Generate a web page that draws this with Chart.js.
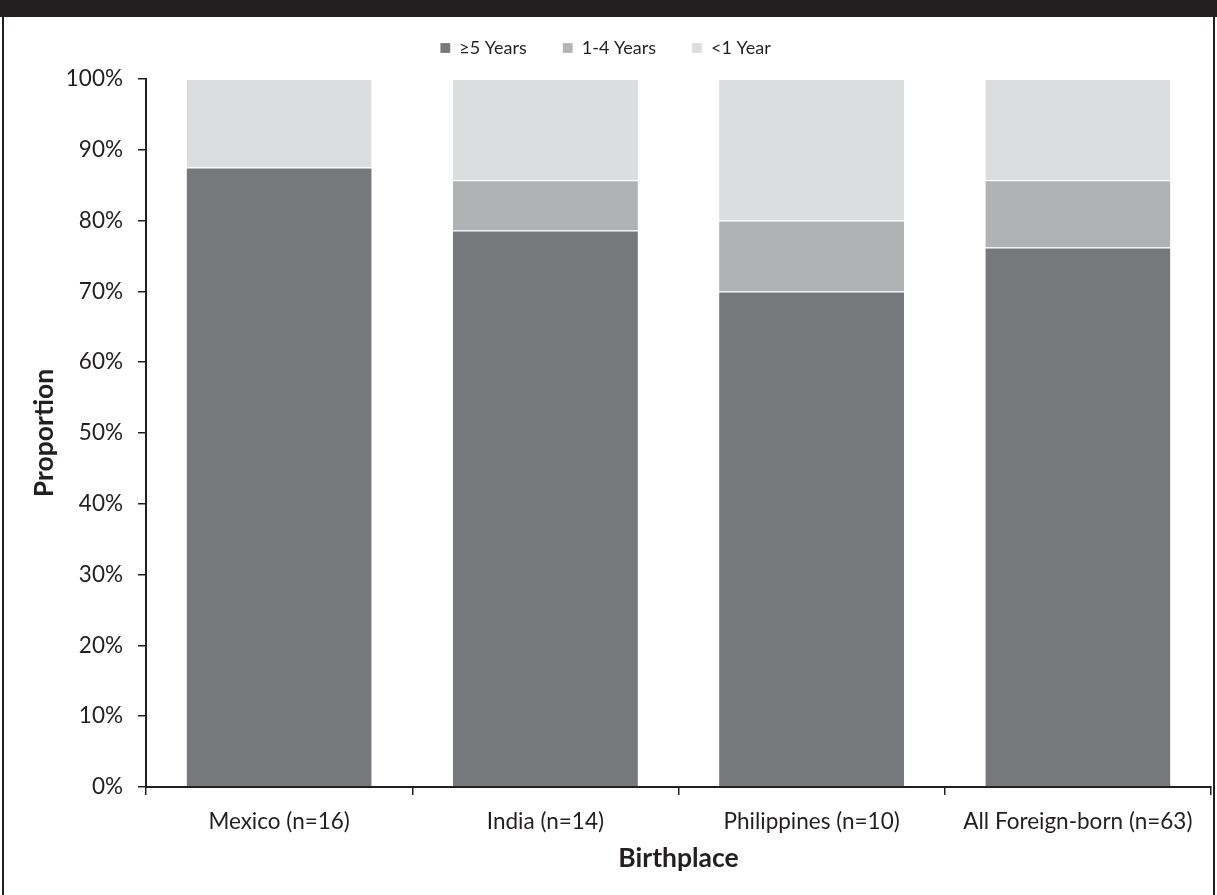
<!DOCTYPE html>
<html>
<head>
<meta charset="utf-8">
<script src="https://cdn.jsdelivr.net/npm/chart.js@4"></script>
<style>
  html, body { margin: 0; padding: 0; background: #fff; }
  #wrap { position: relative; width: 1217px; height: 895px; overflow: hidden; }
  canvas { position: absolute; left: 0; top: 0; }
  .frame { position: absolute; background: #231f20; }
</style>
</head>
<body>
<div id="wrap">
  <canvas id="c" width="1217" height="895"></canvas>
  <div class="frame" style="left:0;top:0;width:1217px;height:17px;"></div>
  <div class="frame" style="left:2px;top:0;width:2px;height:895px;"></div>
  <div class="frame" style="left:1213px;top:0;width:2px;height:895px;"></div>
</div>
<script>
const categories = ["Mexico (n=16)", "India (n=14)", "Philippines (n=10)", "All Foreign-born (n=63)"];
const seriesNames = ["\u22655 Years", "1-4 Years", "<1 Year"];
const over5 = [87.5, 78.6, 70.0, 76.2];
const oneToFour = [0.0, 7.1, 10.0, 9.5];
const underOne = [12.5, 14.3, 20.0, 14.3];
const yTicks = [0, 10, 20, 30, 40, 50, 60, 70, 80, 90, 100];

const colors = ["#77787b", "#b1b2b4", "#dcdddf"];
const axisColor = "#231f20";
const FONT = "Lato, 'Open Sans', sans-serif";

const seriesValues = [over5, oneToFour, underOne];
const datasets = seriesValues.map((vals, i) => ({
  label: seriesNames[i],
  data: vals,
  backgroundColor: colors[i],
  borderColor: "#ffffff",
  borderWidth: { top: 1, bottom: 0, left: 0, right: 0 },
  borderSkipped: false,
  categoryPercentage: 1.0,
  barPercentage: 0.695
}));

const legendHeightPlugin = {
  id: "legendHeight",
  beforeInit(chart) {
    const lg = chart.legend;
    if (!lg) return;
    const orig = lg.fit.bind(lg);
    lg.fit = function () { orig(); this.height = 76; };
  }
};

new Chart(document.getElementById("c"), {
  type: "bar",
  data: { labels: categories, datasets },
  plugins: [legendHeightPlugin],
  options: {
    responsive: false,
    animation: false,
    devicePixelRatio: 1,
    layout: { padding: { left: 0, right: 6, top: 3, bottom: 0 } },
    plugins: {
      legend: {
        position: "top",
        labels: {
          boxWidth: 10, boxHeight: 10,
          color: "#231f20",
          font: { family: FONT, size: 18 },
          padding: 36
        }
      },
      tooltip: { enabled: false }
    },
    scales: {
      x: {
        stacked: true,
        border: { display: true, color: axisColor, width: 2 },
        grid: { display: true, drawOnChartArea: false, drawTicks: true, tickLength: 8, color: axisColor, lineWidth: 1.5 },
        ticks: { color: "#231f20", font: { family: FONT, size: 22.5 }, padding: 13, maxRotation: 0 },
        title: { display: true, text: "Birthplace", color: "#231f20", font: { family: FONT, size: 26.5, weight: "bold" }, padding: { top: 0, bottom: 21 } },
        afterFit: (s) => { s.height = 108; }
      },
      y: {
        stacked: true,
        min: 0, max: 100,
        afterBuildTicks: (s) => { s.ticks = yTicks.map(v => ({ value: v })); },
        border: { display: true, color: axisColor, width: 2 },
        grid: { display: true, drawOnChartArea: false, drawTicks: true, tickLength: 8, color: axisColor, lineWidth: 1.5 },
        ticks: { color: "#231f20", font: { family: FONT, size: 22.5 }, padding: 15, callback: (v) => v + "%" },
        title: { display: true, text: "Proportion", color: "#231f20", font: { family: FONT, size: 26.5, weight: "bold" }, padding: { top: 29, bottom: 0 } },
        afterFit: (s) => { s.width = 146; }
      }
    }
  }
});
</script>
</body>
</html>
